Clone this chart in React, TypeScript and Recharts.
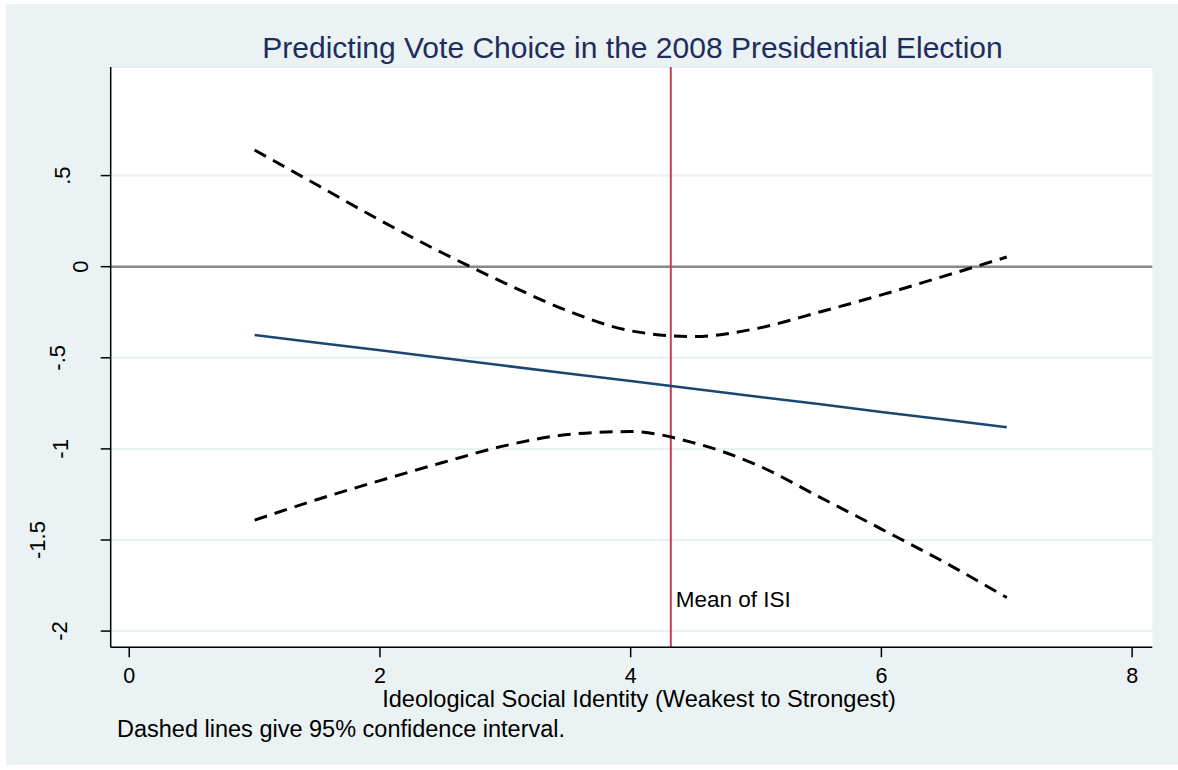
import {
  LineChart,
  Line,
  XAxis,
  YAxis,
  CartesianGrid,
  ReferenceLine,
} from "recharts";

const isiValues = [1, 1.5, 2, 2.5, 3, 3.5, 4, 4.5, 5, 5.5, 6, 6.5, 7];
const estimate = [
  -0.375, -0.417, -0.459, -0.501, -0.544, -0.586, -0.628, -0.67, -0.712, -0.754, -0.797, -0.839, -0.881,
];
const upperCI = [
  0.64, 0.448, 0.255, 0.075, -0.091, -0.243, -0.352, -0.383, -0.34, -0.25, -0.155, -0.052, 0.053,
];
const lowerCI = [
  -1.391, -1.278, -1.174, -1.075, -0.982, -0.921, -0.905, -0.966, -1.086, -1.262, -1.44, -1.621, -1.816,
];

const xTicks = [0, 2, 4, 6, 8];
const yTicks = [-2, -1.5, -1, -0.5, 0, 0.5];
const meanISI = 4.32;

const rows = isiValues.map((x, i) => ({
  x,
  est: estimate[i],
  hi: upperCI[i],
  lo: lowerCI[i],
}));

const FONT = '"Liberation Sans", Arial, sans-serif';

// stata style labels: .5, -.5
const fmt = (v: number) => String(v).replace(/^(-?)0\./, "$1.");

// baseline of each rotated y label (stata export puts them unevenly)
const yLabelX: Record<string, number> = {
  ".5": 70,
  "0": 88,
  "-.5": 65,
  "-1": 68,
  "-1.5": 45,
  "-2": 67,
};

const YTick = (props: any) => {
  const { y, payload } = props;
  const label = fmt(payload.value);
  const bx = yLabelX[label] ?? 70;
  return (
    <text
      x={bx}
      y={y}
      transform={`rotate(-90, ${bx}, ${y})`}
      textAnchor="middle"
      fontSize={22}
      fontFamily={FONT}
      fill="#000"
    >
      {label}
    </text>
  );
};

const XTick = (props: any) => {
  const { x, payload } = props;
  return (
    <text x={x} y={683} textAnchor="middle" fontSize={21.5} fontFamily={FONT} fill="#000">
      {payload.value}
    </text>
  );
};

const MeanLabel = (props: any) => {
  const vb = props.viewBox || {};
  return (
    <text
      x={vb.x + 5}
      y={vb.y + vb.height - 40}
      fontSize={22.5}
      fontFamily={FONT}
      fill="#000"
    >
      Mean of ISI
    </text>
  );
};

export default function App() {
  return (
    <div style={{ position: "absolute", left: 0, top: 0, width: 1178, height: 770, background: "#fff" }}>
      <div
        style={{
          position: "absolute",
          left: 6,
          top: 4,
          width: 1172,
          height: 761,
          background: "#eaf2f3",
        }}
      />
      <div style={{ position: "absolute", left: 0, top: 0 }}>
        <LineChart
          width={1178}
          height={770}
          data={rows}
          margin={{ top: 67, right: 25.7, bottom: 62.7, left: 10 }}
        >
          <CartesianGrid vertical={false} fill="#fff" stroke="#e8f0f2" strokeWidth={2} />
          <XAxis
            type="number"
            dataKey="x"
            domain={[-0.148, 8.161]}
            ticks={xTicks}
            allowDataOverflow
            height={60}
            tickSize={10}
            tick={<XTick />}
            axisLine={{ stroke: "#000", strokeWidth: 1.5 }}
            tickLine={{ stroke: "#000", strokeWidth: 1.5 }}
          />
          <YAxis
            type="number"
            domain={[-2.089, 1.096]}
            ticks={yTicks}
            allowDataOverflow
            width={100.7}
            tickSize={10}
            tick={<YTick />}
            axisLine={{ stroke: "#000", strokeWidth: 1.5 }}
            tickLine={{ stroke: "#000", strokeWidth: 1.5 }}
          />
          <ReferenceLine y={0} stroke="#888888" strokeWidth={2.5} />
          <ReferenceLine x={meanISI} stroke="#c83c5a" strokeWidth={2} label={<MeanLabel />} />
          <Line
            type="monotone"
            dataKey="hi"
            stroke="#000"
            strokeWidth={3}
            strokeDasharray="13 8"
            dot={false}
            isAnimationActive={false}
          />
          <Line
            type="monotone"
            dataKey="lo"
            stroke="#000"
            strokeWidth={3}
            strokeDasharray="13 8"
            dot={false}
            isAnimationActive={false}
          />
          <Line
            type="linear"
            dataKey="est"
            stroke="#1a476f"
            strokeWidth={2.5}
            dot={false}
            isAnimationActive={false}
          />
        </LineChart>
      </div>
      <svg
        width={1178}
        height={770}
        style={{ position: "absolute", left: 0, top: 0, pointerEvents: "none" }}
      >
        <text x={632.5} y={58} textAnchor="middle" fontSize={30} fontFamily={FONT} fill="#1f2d5c">
          Predicting Vote Choice in the 2008 Presidential Election
        </text>
        <text x={639} y={707} textAnchor="middle" fontSize={23.6} fontFamily={FONT} fill="#000">
          Ideological Social Identity (Weakest to Strongest)
        </text>
        <text x={117} y={737} fontSize={23.5} fontFamily={FONT} fill="#000">
          Dashed lines give 95% confidence interval.
        </text>
      </svg>
    </div>
  );
}
